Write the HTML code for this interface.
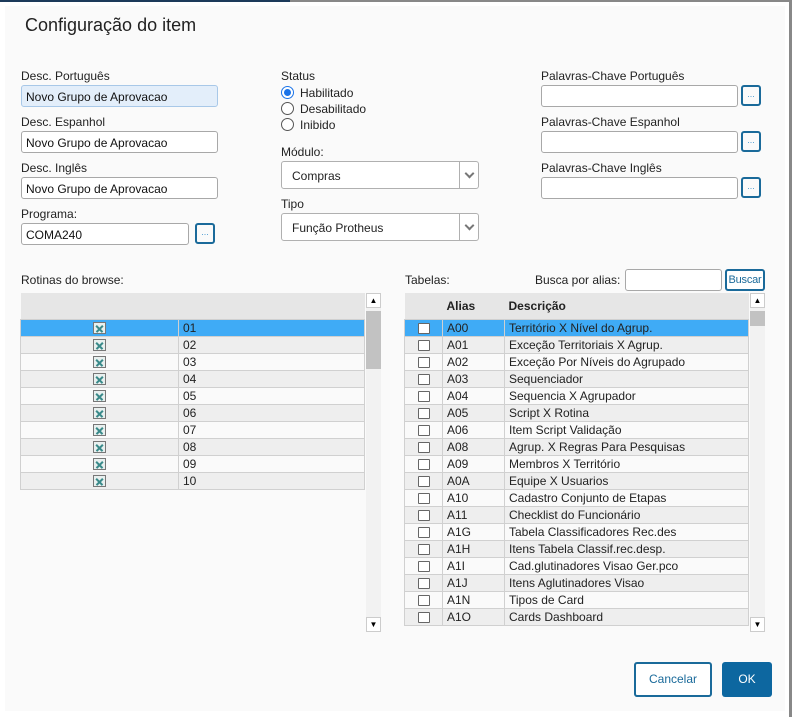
<!DOCTYPE html>
<html><head><meta charset="utf-8"><style>
*{box-sizing:border-box;margin:0;padding:0}
body{width:792px;height:717px;background:#fff;position:relative;overflow:hidden;font-family:"Liberation Sans",Arial,sans-serif;font-size:12px;color:#222}
.a{position:absolute}
.panel{left:5px;top:6px;width:780px;height:705px;background:#fafafa}
.lbl{position:absolute;font-size:12px;color:#222;white-space:nowrap}
.inp{position:absolute;height:22px;border:1px solid #a8a8a8;border-radius:3px;background:#fff;padding:4px 4px;font-size:12px;color:#111;white-space:nowrap}
.btn{position:absolute;width:20px;height:21px;border:2px solid #1a6a9a;border-radius:3px;background:#fafafa;color:#4a9ad0;font-size:9px;text-align:center;line-height:14px}
.sel{position:absolute;height:28px;border:1px solid #b0b0b0;border-radius:3px;background:#fff;padding:7px 10px;font-size:12px}
.sel:after{content:"";position:absolute;right:0;top:0;width:18px;height:26px;border-left:1px solid #b0b0b0}
.sel i{position:absolute;right:5px;top:8px;width:7px;height:7px;border-right:2px solid #777;border-bottom:2px solid #777;transform:rotate(45deg)}
.rad{position:absolute;width:13px;height:13px;border:1px solid #555;border-radius:50%;background:#fff}
table{border-collapse:collapse;position:absolute;table-layout:fixed}
td{height:17px;border:1px solid #d0d0d0;font-size:12px;padding:0 4px;white-space:nowrap;overflow:hidden}
tr.h td{height:26px;background:#e6e6e6;border:none;font-weight:bold}
tr.g td{background:#eeeeee}
tr.w td{background:#fafafa}
tr.s td{background:#3fabf6}
.x{display:inline-block;width:13px;height:12px;border:1px solid #777;background:#e8f0ef;position:relative;vertical-align:middle}
.x:before,.x:after{content:"";position:absolute;left:1px;top:4.5px;width:9px;height:1.5px;background:#3a8a8a;transform:rotate(45deg)}
.x:after{transform:rotate(-45deg)}
.cb{display:inline-block;width:12px;height:11px;border:1px solid #666;border-radius:1px;background:#fff;vertical-align:middle}
.sb{position:absolute;width:15px;background:#f2f2f2}
.arr{position:absolute;width:15px;height:15px;background:#fff;border:1px solid #ccc;font-size:8px;text-align:center;line-height:13px;color:#000}
.th{position:absolute;left:0;width:15px;background:#c2c2c2}
</style></head><body>
<div class="a" style="left:0;top:0;width:290px;height:2px;background:#1c3a5a"></div>
<div class="a" style="left:290px;top:0;width:502px;height:2px;background:#888"></div>
<div class="a" style="left:789px;top:0;width:3px;height:717px;background:#888"></div>
<div class="a panel"></div>
<div class="lbl" style="left:25px;top:15px;font-size:18px;color:#222">Configuração do item</div>

<div class="lbl" style="left:21px;top:69px">Desc. Português</div>
<div class="inp" style="left:21px;top:85px;width:197px;background:#e3eefa;border-color:#a8c8e8">Novo Grupo de Aprovacao</div>
<div class="lbl" style="left:21px;top:115px">Desc. Espanhol</div>
<div class="inp" style="left:21px;top:131px;width:197px">Novo Grupo de Aprovacao</div>
<div class="lbl" style="left:21px;top:161px">Desc. Inglês</div>
<div class="inp" style="left:21px;top:177px;width:197px">Novo Grupo de Aprovacao</div>
<div class="lbl" style="left:21px;top:207px">Programa:</div>
<div class="inp" style="left:21px;top:223px;width:168px">COMA240</div>
<div class="btn" style="left:195px;top:223px">...</div>

<div class="lbl" style="left:281px;top:69px">Status</div>
<div class="rad" style="left:281px;top:86px;border-color:#1a73e8"><div class="a" style="left:2px;top:2px;width:7px;height:7px;border-radius:50%;background:#1a73e8"></div></div>
<div class="lbl" style="left:300px;top:86px">Habilitado</div>
<div class="rad" style="left:281px;top:102px"></div>
<div class="lbl" style="left:300px;top:102px">Desabilitado</div>
<div class="rad" style="left:281px;top:118px"></div>
<div class="lbl" style="left:300px;top:118px">Inibido</div>
<div class="lbl" style="left:281px;top:145px">Módulo:</div>
<div class="sel" style="left:281px;top:161px;width:198px">Compras<i></i></div>
<div class="lbl" style="left:281px;top:197px">Tipo</div>
<div class="sel" style="left:281px;top:213px;width:198px">Função Protheus<i></i></div>

<div class="lbl" style="left:541px;top:69px">Palavras-Chave Português</div>
<div class="inp" style="left:541px;top:85px;width:197px"></div>
<div class="btn" style="left:741px;top:85px">...</div>
<div class="lbl" style="left:541px;top:115px">Palavras-Chave Espanhol</div>
<div class="inp" style="left:541px;top:131px;width:197px"></div>
<div class="btn" style="left:741px;top:131px">...</div>
<div class="lbl" style="left:541px;top:161px">Palavras-Chave Inglês</div>
<div class="inp" style="left:541px;top:177px;width:197px"></div>
<div class="btn" style="left:741px;top:177px">...</div>

<div class="lbl" style="left:21px;top:273px">Rotinas do browse:</div>
<table style="left:20px;top:293px;width:344px">
<col style="width:158px"><col style="width:186px">
<tr class="h"><td></td><td></td></tr>
<tr class="s"><td style="text-align:center"><span class="x"></span></td><td>01</td></tr>
<tr class="g"><td style="text-align:center"><span class="x"></span></td><td>02</td></tr>
<tr class="w"><td style="text-align:center"><span class="x"></span></td><td>03</td></tr>
<tr class="g"><td style="text-align:center"><span class="x"></span></td><td>04</td></tr>
<tr class="w"><td style="text-align:center"><span class="x"></span></td><td>05</td></tr>
<tr class="g"><td style="text-align:center"><span class="x"></span></td><td>06</td></tr>
<tr class="w"><td style="text-align:center"><span class="x"></span></td><td>07</td></tr>
<tr class="g"><td style="text-align:center"><span class="x"></span></td><td>08</td></tr>
<tr class="w"><td style="text-align:center"><span class="x"></span></td><td>09</td></tr>
<tr class="g"><td style="text-align:center"><span class="x"></span></td><td>10</td></tr>
</table>
<div class="sb" style="left:366px;top:293px;height:339px"><div class="arr" style="top:0">▲</div><div class="th" style="top:18px;height:58px"></div><div class="arr" style="bottom:0">▼</div></div>

<div class="lbl" style="left:405px;top:273px">Tabelas:</div>
<div class="lbl" style="left:535px;top:273px">Busca por alias:</div>
<div class="inp" style="left:625px;top:269px;width:97px"></div>
<div class="a" style="left:725px;top:269px;width:40px;height:22px;border:2px solid #1a6a9a;border-radius:3px;background:#fff;color:#1a6a9a;font-size:11px;line-height:18px;text-align:center;letter-spacing:-0.2px;overflow:hidden">Buscar</div>
<table style="left:404px;top:293px;width:344px">
<col style="width:38px"><col style="width:62px"><col style="width:244px">
<tr class="h"><td></td><td>Alias</td><td>Descrição</td></tr>
<tr class="s"><td style="text-align:center"><span class="cb"></span></td><td>A00</td><td>Território X Nível do Agrup.</td></tr>
<tr class="g"><td style="text-align:center"><span class="cb"></span></td><td>A01</td><td>Exceção Territoriais X Agrup.</td></tr>
<tr class="w"><td style="text-align:center"><span class="cb"></span></td><td>A02</td><td>Exceção Por Níveis do Agrupado</td></tr>
<tr class="g"><td style="text-align:center"><span class="cb"></span></td><td>A03</td><td>Sequenciador</td></tr>
<tr class="w"><td style="text-align:center"><span class="cb"></span></td><td>A04</td><td>Sequencia X Agrupador</td></tr>
<tr class="g"><td style="text-align:center"><span class="cb"></span></td><td>A05</td><td>Script X Rotina</td></tr>
<tr class="w"><td style="text-align:center"><span class="cb"></span></td><td>A06</td><td>Item Script Validação</td></tr>
<tr class="g"><td style="text-align:center"><span class="cb"></span></td><td>A08</td><td>Agrup. X Regras Para Pesquisas</td></tr>
<tr class="w"><td style="text-align:center"><span class="cb"></span></td><td>A09</td><td>Membros X Território</td></tr>
<tr class="g"><td style="text-align:center"><span class="cb"></span></td><td>A0A</td><td>Equipe X Usuarios</td></tr>
<tr class="w"><td style="text-align:center"><span class="cb"></span></td><td>A10</td><td>Cadastro Conjunto de Etapas</td></tr>
<tr class="g"><td style="text-align:center"><span class="cb"></span></td><td>A11</td><td>Checklist do Funcionário</td></tr>
<tr class="w"><td style="text-align:center"><span class="cb"></span></td><td>A1G</td><td>Tabela Classificadores Rec.des</td></tr>
<tr class="g"><td style="text-align:center"><span class="cb"></span></td><td>A1H</td><td>Itens Tabela Classif.rec.desp.</td></tr>
<tr class="w"><td style="text-align:center"><span class="cb"></span></td><td>A1I</td><td>Cad.glutinadores Visao Ger.pco</td></tr>
<tr class="g"><td style="text-align:center"><span class="cb"></span></td><td>A1J</td><td>Itens Aglutinadores Visao</td></tr>
<tr class="w"><td style="text-align:center"><span class="cb"></span></td><td>A1N</td><td>Tipos de Card</td></tr>
<tr class="g"><td style="text-align:center"><span class="cb"></span></td><td>A1O</td><td>Cards Dashboard</td></tr>
</table>
<div class="sb" style="left:750px;top:293px;height:339px"><div class="arr" style="top:0">▲</div><div class="th" style="top:18px;height:15px"></div><div class="arr" style="bottom:0">▼</div></div>

<div class="a" style="left:634px;top:662px;width:78px;height:35px;border:2px solid #1a6a9a;border-radius:3px;background:#fff;color:#1a6a9a;font-size:12px;line-height:31px;text-align:center">Cancelar</div>
<div class="a" style="left:722px;top:662px;width:50px;height:35px;border-radius:3px;background:#0d67a0;color:#fff;font-size:12px;line-height:35px;text-align:center">OK</div>
</body></html>
